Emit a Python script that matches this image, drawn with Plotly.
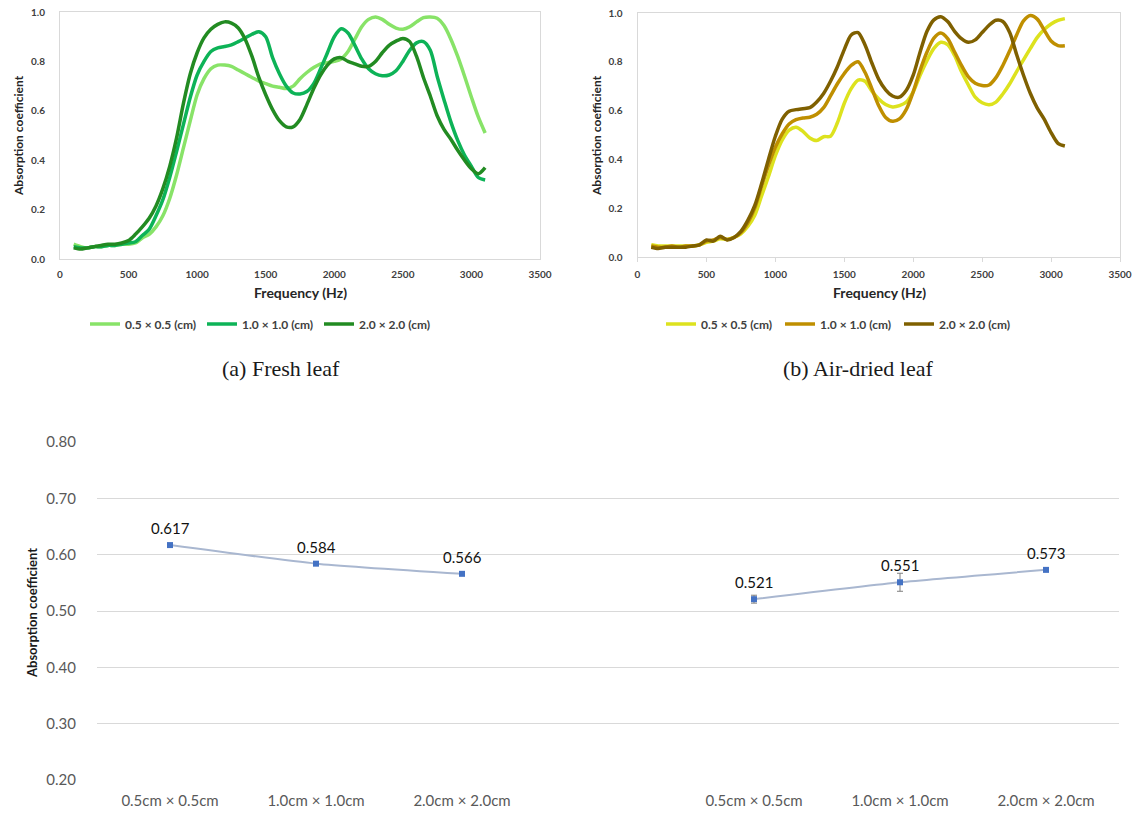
import plotly.graph_objects as go

# ---------------- data ----------------
FREQ = [100, 150, 200, 250, 300, 350, 400, 450, 500, 550, 600, 650, 700, 750, 800, 850,
        900, 950, 1000, 1050, 1100, 1150, 1200, 1250, 1300, 1350, 1400, 1450, 1500, 1550,
        1600, 1650, 1700, 1750, 1800, 1850, 1900, 1950, 2000, 2050, 2100, 2150, 2200, 2250,
        2300, 2350, 2400, 2450, 2500, 2550, 2600, 2650, 2700, 2750, 2800, 2850, 2900, 2950,
        3000, 3050, 3100]

FRESH_05 = [0.06, 0.05, 0.045, 0.05, 0.05, 0.055, 0.055, 0.06, 0.06, 0.065, 0.085, 0.10, 0.13,
            0.175, 0.245, 0.34, 0.45, 0.56, 0.665, 0.73, 0.77, 0.785, 0.785, 0.78, 0.765, 0.75,
            0.735, 0.72, 0.71, 0.70, 0.695, 0.69, 0.70, 0.73, 0.755, 0.775, 0.79, 0.795, 0.80,
            0.81, 0.84, 0.89, 0.94, 0.97, 0.98, 0.97, 0.95, 0.935, 0.93, 0.94, 0.96, 0.977,
            0.98, 0.975, 0.945, 0.89, 0.82, 0.74, 0.655, 0.575, 0.51]
FRESH_10 = [0.05, 0.045, 0.045, 0.05, 0.05, 0.055, 0.055, 0.06, 0.065, 0.07, 0.095, 0.12, 0.175,
            0.24, 0.33, 0.435, 0.545, 0.655, 0.745, 0.80, 0.84, 0.855, 0.86, 0.867, 0.88, 0.895,
            0.91, 0.92, 0.90, 0.815, 0.75, 0.70, 0.672, 0.668, 0.678, 0.71, 0.77, 0.835, 0.90,
            0.932, 0.915, 0.865, 0.81, 0.77, 0.75, 0.742, 0.745, 0.762, 0.80, 0.845, 0.875,
            0.88, 0.845, 0.74, 0.645, 0.555, 0.48, 0.42, 0.375, 0.33, 0.32]
FRESH_20 = [0.045, 0.04, 0.045, 0.05, 0.055, 0.06, 0.06, 0.065, 0.075, 0.10, 0.13, 0.165, 0.215,
            0.285, 0.375, 0.49, 0.63, 0.75, 0.835, 0.895, 0.93, 0.95, 0.96, 0.955, 0.935, 0.89,
            0.82, 0.735, 0.665, 0.605, 0.56, 0.535, 0.535, 0.565, 0.625, 0.69, 0.745, 0.785,
            0.81, 0.815, 0.80, 0.79, 0.78, 0.78, 0.80, 0.835, 0.865, 0.882, 0.893, 0.88, 0.82,
            0.735, 0.66, 0.58, 0.525, 0.485, 0.44, 0.40, 0.365, 0.345, 0.37]

DRIED_05 = [0.05, 0.045, 0.045, 0.045, 0.045, 0.045, 0.045, 0.05, 0.06, 0.065, 0.075, 0.072,
            0.08, 0.095, 0.125, 0.17, 0.25, 0.33, 0.415, 0.48, 0.52, 0.532, 0.515, 0.488, 0.477,
            0.493, 0.495, 0.55, 0.63, 0.69, 0.725, 0.72, 0.68, 0.648, 0.625, 0.615, 0.62, 0.635,
            0.677, 0.745, 0.805, 0.855, 0.88, 0.87, 0.826, 0.76, 0.705, 0.655, 0.632, 0.624,
            0.635, 0.668, 0.71, 0.76, 0.808, 0.855, 0.90, 0.932, 0.955, 0.97, 0.977]
DRIED_10 = [0.045, 0.04, 0.04, 0.045, 0.04, 0.045, 0.045, 0.05, 0.065, 0.07, 0.08, 0.072, 0.08,
            0.10, 0.14, 0.20, 0.29, 0.375, 0.45, 0.505, 0.545, 0.563, 0.57, 0.573, 0.585, 0.612,
            0.66, 0.71, 0.752, 0.785, 0.80, 0.757, 0.69, 0.62, 0.572, 0.556, 0.566, 0.605,
            0.677, 0.765, 0.84, 0.897, 0.918, 0.895, 0.84, 0.785, 0.738, 0.712, 0.703, 0.705,
            0.735, 0.785, 0.845, 0.91, 0.968, 0.99, 0.975, 0.93, 0.885, 0.866, 0.866]
DRIED_20 = [0.04, 0.035, 0.04, 0.04, 0.04, 0.04, 0.045, 0.05, 0.07, 0.065, 0.085, 0.07, 0.08,
            0.105, 0.15, 0.21, 0.30, 0.40, 0.495, 0.565, 0.597, 0.604, 0.608, 0.612, 0.635,
            0.67, 0.72, 0.78, 0.85, 0.91, 0.92, 0.87, 0.795, 0.728, 0.685, 0.66, 0.655, 0.683,
            0.745, 0.84, 0.925, 0.972, 0.985, 0.965, 0.925, 0.895, 0.88, 0.89, 0.92, 0.95,
            0.97, 0.965, 0.92, 0.83, 0.745, 0.67, 0.61, 0.565, 0.51, 0.466, 0.455]

SIZE_LABELS = ["0.5 × 0.5 (cm)", "1.0 × 1.0 (cm)", "2.0 × 2.0 (cm)"]
FRESH_COLORS = ["#88E368", "#0DB357", "#228B22"]
DRIED_COLORS = ["#DDE21E", "#BF8F00", "#7F6000"]

X_TICKS_TOP = [0, 500, 1000, 1500, 2000, 2500, 3000, 3500]
Y_TICKS_TOP = [0.0, 0.2, 0.4, 0.6, 0.8, 1.0]

CATS = ["0.5cm × 0.5cm", "1.0cm × 1.0cm", "2.0cm × 2.0cm"]
FRESH_SLOTS = [0, 1, 2]
DRIED_SLOTS = [4, 5, 6]
FRESH_MEAN = [0.617, 0.584, 0.566]
FRESH_ERR = [0.002, 0.002, 0.002]
DRIED_MEAN = [0.521, 0.551, 0.573]
DRIED_ERR = [0.007, 0.016, 0.002]
Y_TICKS_BOTTOM = [0.2, 0.3, 0.4, 0.5, 0.6, 0.7, 0.8]

CAPTIONS = ["(a) Fresh leaf", "(b) Air-dried leaf"]

# ---------------- layout helpers ----------------
W, H = 1137, 815


def fx(p):
    return p / W


def fy(p):
    return 1 - p / H


BOLD_FONT = "Lato"
fig = go.Figure()

# top-left curves
for vals, name, col in zip([FRESH_05, FRESH_10, FRESH_20], SIZE_LABELS, FRESH_COLORS):
    fig.add_trace(go.Scatter(x=FREQ, y=vals, mode="lines", name=name,
                             line=dict(color=col, width=3.5, shape="spline", smoothing=0.8),
                             xaxis="x", yaxis="y", legend="legend"))
# top-right curves
for vals, name, col in zip([DRIED_05, DRIED_10, DRIED_20], SIZE_LABELS, DRIED_COLORS):
    fig.add_trace(go.Scatter(x=FREQ, y=vals, mode="lines", name=name,
                             line=dict(color=col, width=3.5, shape="spline", smoothing=0.8),
                             xaxis="x2", yaxis="y2", legend="legend2"))

# bottom chart
for xs, ys, es in [(FRESH_SLOTS, FRESH_MEAN, FRESH_ERR), (DRIED_SLOTS, DRIED_MEAN, DRIED_ERR)]:
    fig.add_trace(go.Scatter(
        x=xs, y=ys, mode="lines+markers", showlegend=False,
        line=dict(color="#A9B7D0", width=2, shape="spline", smoothing=0.5),
        marker=dict(symbol="square", size=6, color="#4472C4"),
        error_y=dict(type="data", array=es, visible=True, color="#7F7F7F", thickness=1, width=3),
        xaxis="x3", yaxis="y3"))
    for xv, yv in zip(xs, ys):
        fig.add_annotation(x=xv, y=yv, xref="x3", yref="y3", text=f"{yv:.3f}",
                           showarrow=False, yshift=17,
                           font=dict(family="Lato", size=15, color="#111111"))

tick_font_top = dict(family=BOLD_FONT, size=10, color="#404040", weight="bold")
frame = dict(showline=True, mirror=True, linecolor="#D9D9D9", linewidth=1,
             showgrid=False, zeroline=False, automargin=False, ticklabeloverflow="allow")

fig.update_layout(
    width=W, height=H, autosize=False,
    margin=dict(l=0, r=0, t=0, b=0, autoexpand=False),
    paper_bgcolor="white", plot_bgcolor="white",
    xaxis=dict(domain=[fx(60), fx(540)], range=[0, 3500], tickvals=X_TICKS_TOP,
               tickfont=tick_font_top, ticklabelstandoff=6, anchor="y", **frame),
    yaxis=dict(domain=[fy(259), fy(12)], range=[0, 1], tickvals=Y_TICKS_TOP, tickformat=".1f",
               tickfont=tick_font_top, ticklabelstandoff=12, anchor="x", **frame),
    xaxis2=dict(domain=[fx(637.5), fx(1120)], range=[0, 3500], tickvals=X_TICKS_TOP,
                tickfont=tick_font_top, ticklabelstandoff=4, anchor="y2",
                ticks="outside", ticklen=4, tickcolor="#D9D9D9", **frame),
    yaxis2=dict(domain=[fy(257), fy(13)], range=[0, 1], tickvals=Y_TICKS_TOP, tickformat=".1f",
                tickfont=tick_font_top, ticklabelstandoff=12, anchor="x2", **frame),
    xaxis3=dict(domain=[fx(97), fx(1119)], range=[-0.5, 6.5], tickvals=FRESH_SLOTS + DRIED_SLOTS,
                ticktext=CATS + CATS, showgrid=False, zeroline=False, showline=False,
                automargin=False, ticklabeloverflow="allow",
                tickfont=dict(family="Lato", size=15, color="#595959"),
                ticklabelstandoff=10, anchor="y3"),
    yaxis3=dict(domain=[fy(780.3), fy(441.7)], range=[0.1995, 0.8005], tickvals=Y_TICKS_BOTTOM,
                tickformat=".2f", showgrid=True, gridcolor="#D9D9D9", gridwidth=1,
                zeroline=False, showline=False, automargin=False, ticklabeloverflow="allow",
                tickfont=dict(family="Lato", size=15, color="#595959"),
                ticklabelstandoff=20, anchor="x3"),
    legend=dict(orientation="h", x=fx(85), y=fy(324), xanchor="left", yanchor="middle",
                entrywidth=72, entrywidthmode="pixels", itemwidth=30,
                font=dict(family=BOLD_FONT, size=12, color="#404040", weight="bold"),
                bgcolor="rgba(0,0,0,0)"),
    legend2=dict(orientation="h", x=fx(661), y=fy(324), xanchor="left", yanchor="middle",
                 entrywidth=74, entrywidthmode="pixels", itemwidth=30,
                 font=dict(family=BOLD_FONT, size=12, color="#404040", weight="bold"),
                 bgcolor="rgba(0,0,0,0)"),
)


def label(text, x, y, font, angle=0):
    fig.add_annotation(text=text, x=fx(x), y=fy(y), xref="paper", yref="paper",
                       xanchor="center", yanchor="middle", textangle=angle,
                       showarrow=False, font=font)


title_font = dict(family=BOLD_FONT, size=12, color="#262626", weight="bold")
freq_font = dict(family=BOLD_FONT, size=14, color="#262626", weight="bold")
label("Absorption coefficient", 18, 136, title_font, -90)
label("Absorption coefficient", 596, 136, title_font, -90)
label("Frequency (Hz)", 300, 293, freq_font)
label("Frequency (Hz)", 879, 293, freq_font)
label("Absorption coefficient", 32, 613,
      dict(family=BOLD_FONT, size=13, color="#1a1a1a", weight="bold"), -90)
for cap, cx in zip(CAPTIONS, [281, 858]):
    label(cap, cx, 368, dict(family="Liberation Serif", size=22, color="#1a1a1a"))

# remove the default 8px page margin so the figure fills the window exactly
fig.write_html("out.html", config={"displayModeBar": False},
               post_script="document.body.style.margin='0px';")
